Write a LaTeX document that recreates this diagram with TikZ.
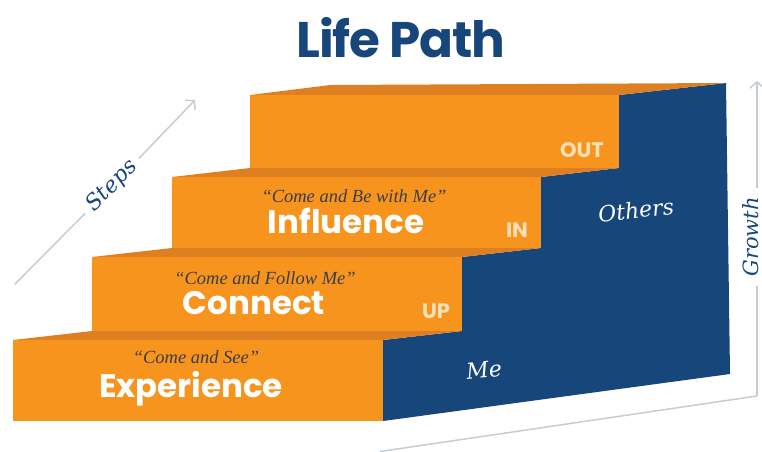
\documentclass[tikz,border=0pt]{standalone}
\usepackage{fontspec}
\setmainfont{Liberation Serif}
\newfontfamily\popfont{Poppins}
\newfontfamily\titlefont{Poppins}[LetterSpace=-2.5]
\newfontfamily\serifit{DejaVu Serif}
\usetikzlibrary{arrows.meta}
\definecolor{stepor}{HTML}{F7941D}
\definecolor{stepdk}{HTML}{DE8022}
\definecolor{navy}{HTML}{17467A}
\definecolor{peach}{HTML}{FCE0B8}
\definecolor{arrc}{HTML}{C4CCD6}
\definecolor{quotec}{HTML}{3B3E4C}
\begin{document}
\begin{tikzpicture}[x=1pt,y=-1pt,
  frontface/.style={fill=stepor},
  topface/.style={fill=stepdk},
  sideface/.style={fill=navy},
  biglabel/.style={font=\popfont\bfseries\fontsize{32.5}{32.5}\selectfont, text=white, anchor=base, inner sep=0pt},
  quotelabel/.style={font=\itshape\fontsize{18.5}{18.5}\selectfont, text=quotec, anchor=base, inner sep=0pt},
  dirlabel/.style={font=\popfont\bfseries\fontsize{21}{21}\selectfont, text=peach, anchor=base, inner sep=0pt},
  scrlabel/.style={font=\serifit\itshape\fontsize{22}{22}\selectfont, text=navy, inner sep=1pt},
  guide/.style={draw=arrc, line width=1.5pt},
  guidearrow/.style={guide, -{Straight Barb[length=6pt,width=14pt,line width=1.5pt]}}
]
\useasboundingbox (0,0) rectangle (762,451);

% title
\node[font=\titlefont\bfseries\fontsize{50}{50}\selectfont, text=navy, anchor=base, inner sep=0pt] (title) at (401,57) {Life Path};

% blue side face
\fill[sideface] (383,421) -- (730,374) -- (726,83) -- (619,95) -- (619,168) -- (541,177) -- (541,248) -- (462,257) -- (462,331) -- (383,340) -- cycle;

% step 4 (top)
\fill[topface] (250,95) -- (330,85) -- (726,83) -- (619,95) -- cycle;
\fill[frontface] (250,95) rectangle (619,168);
% step 3
\fill[topface] (172,177) -- (250,168) -- (619,168) -- (541,177) -- cycle;
\fill[frontface] (172,177) rectangle (541,248);
% step 2
\fill[topface] (92,257) -- (172,248) -- (541,248) -- (462,257) -- cycle;
\fill[frontface] (92,257) rectangle (462,331);
% step 1
\fill[topface] (13,340) -- (92,331) -- (462,331) -- (383,340) -- cycle;
\fill[frontface] (13,340) rectangle (383,421);

% step labels
\node[quotelabel] (q1) at (196,363) {“Come and See”};
\node[biglabel] (l1) at (191,397) {Experience};
\node[quotelabel] (q2) at (265,284) {“Come and Follow Me”};
\node[biglabel] (l2) at (254,314) {Connect};
\node[dirlabel] (d2) at (436,318) {UP};
\node[quotelabel] (q3) at (354,202) {“Come and Be with Me”};
\node[biglabel] (l3) at (346,233) {Influence};
\node[dirlabel] (d3) at (517,237) {IN};
\node[dirlabel] (d4) at (582,157) {OUT};

% side labels
\node[scrlabel, text=white, rotate=6] (others) at (636,210) {Others};
\node[scrlabel, text=white, rotate=6] (me) at (484,370) {Me};

% steps arrow
\coordinate (s0) at (15,284);
\coordinate (s1) at (195,100);
\node[scrlabel, rotate=45.6] (steps) at (112,186) {Steps};
\draw[guide, shorten >=6pt] (s0) -- (steps.west);
\draw[guidearrow, shorten <=6pt] (steps.east) -- (s1);

% growth arrow
\coordinate (g0) at (757,396);
\coordinate (g1) at (757,81);
\node[scrlabel, font=\serifit\itshape\fontsize{21}{21}\selectfont, rotate=90] (growth) at (751,237) {Growth};
\draw[guide, shorten >=8pt] (g0) -- (g0 |- growth.west);
\draw[guidearrow, shorten <=8pt] (g0 |- growth.east) -- (g1);

% base line
\coordinate (b1) at (380,451.5);
\draw[guide] (g0) -- (b1);
\end{tikzpicture}
\end{document}
